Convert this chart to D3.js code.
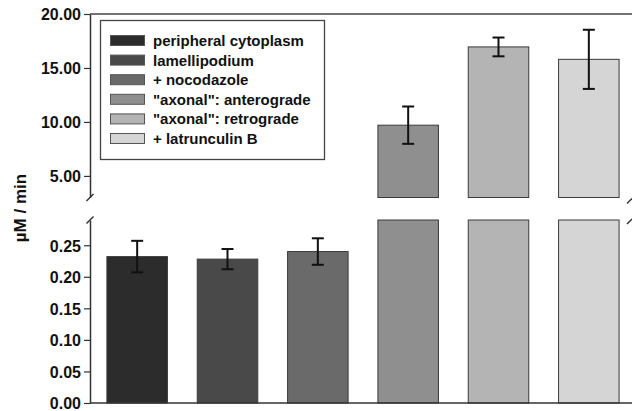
<!DOCTYPE html>
<html>
<head>
<meta charset="utf-8">
<script src="https://cdn.jsdelivr.net/npm/d3@7/dist/d3.min.js"></script>
<style>
html,body{margin:0;padding:0;background:#fff;}
svg{display:block;}
text{font-family:"Liberation Sans",Arial,sans-serif;font-weight:bold;fill:#111;}
</style>
</head>
<body>
<script>
const categories = ["peripheral cytoplasm","lamellipodium","+ nocodazole","\"axonal\": anterograde","\"axonal\": retrograde","+ latrunculin B"];
const means  = [0.232, 0.228, 0.240, 9.70, 16.95, 15.80];
const errors = [0.025, 0.016, 0.021, 1.73, 0.87, 2.74];
const lowTicks = [0, 0.05, 0.10, 0.15, 0.20, 0.25];
const highTicks = [5, 10, 15, 20];
const palette = ["#2c2c2c","#494949","#6a6a6a","#8f8f8f","#b4b4b4","#d5d5d5"];

const W = 632, H = 411;
const svg = d3.select("body").append("svg").attr("width", W).attr("height", H);

const axisX = 90;
const x = d3.scaleBand().domain(categories).range([92, 634]).paddingInner(0.33).paddingOuter(0.165);
const yLow = d3.scaleLinear().domain([0, 0.29]).range([403, 220]);
const yHigh = d3.scaleLinear().domain([3, 20]).range([197.5, 14]);

const lowMax = yLow.domain()[1];

// Bars in lower panel
svg.append("g").selectAll("rect").data(categories).join("rect")
  .attr("x", d => x(d))
  .attr("width", x.bandwidth())
  .attr("y", (d,i) => yLow(Math.min(means[i], lowMax)))
  .attr("height", (d,i) => yLow(0) - yLow(Math.min(means[i], lowMax)))
  .attr("fill", (d,i) => palette[i])
  .attr("stroke", "#3a3a3a").attr("stroke-width", 1);

// Bars in upper panel
const tall = categories.map((d,i)=>i).filter(i => means[i] > yHigh.domain()[0]);
svg.append("g").selectAll("rect").data(tall).join("rect")
  .attr("x", i => x(categories[i]))
  .attr("width", x.bandwidth())
  .attr("y", i => yHigh(means[i]))
  .attr("height", i => yHigh(yHigh.domain()[0]) - yHigh(means[i]))
  .attr("fill", i => palette[i])
  .attr("stroke", "#3a3a3a").attr("stroke-width", 1);

// Error bars
const cap = 6;
categories.forEach((c,i) => {
  const sc = means[i] > lowMax ? yHigh : yLow;
  const cx = x(c) + x.bandwidth()/2;
  const g = svg.append("g").attr("stroke", "#111").attr("stroke-width", 2);
  g.append("line").attr("x1", cx).attr("x2", cx).attr("y1", sc(means[i]-errors[i])).attr("y2", sc(means[i]+errors[i]));
  g.append("line").attr("x1", cx-cap).attr("x2", cx+cap).attr("y1", sc(means[i]+errors[i])).attr("y2", sc(means[i]+errors[i]));
  g.append("line").attr("x1", cx-cap).attr("x2", cx+cap).attr("y1", sc(means[i]-errors[i])).attr("y2", sc(means[i]-errors[i]));
});

// Axes
const fmt = d3.format(".2f");
const gLow = svg.append("g").attr("transform", `translate(${axisX},0)`)
  .call(d3.axisLeft(yLow).tickValues(lowTicks).tickFormat(fmt).tickSize(6).tickSizeOuter(0));
const gHigh = svg.append("g").attr("transform", `translate(${axisX},0)`)
  .call(d3.axisLeft(yHigh).tickValues(highTicks).tickFormat(fmt).tickSize(6).tickSizeOuter(0));
[gLow, gHigh].forEach(g => {
  g.select(".domain").attr("stroke", "#333").attr("stroke-width", 1.5);
  g.selectAll(".tick line").attr("stroke", "#333").attr("stroke-width", 1.2);
  g.selectAll(".tick text").attr("x", -9).attr("dy", "0.36em").style("font-size", "16px").style("font-family", "'Liberation Sans',Arial,sans-serif").style("font-weight", "bold").attr("fill", "#111");
  g.attr("font-size", null).attr("font-family", null);
});

// bottom axis line and top frame line
svg.append("line").attr("x1", axisX).attr("x2", W).attr("y1", yLow(0)).attr("y2", yLow(0)).attr("stroke", "#333").attr("stroke-width", 1.5);
svg.append("line").attr("x1", axisX).attr("x2", W).attr("y1", yHigh(20)).attr("y2", yHigh(20)).attr("stroke", "#444").attr("stroke-width", 1.5);

// Break marks
const brk = svg.append("g").attr("stroke", "#333").attr("stroke-width", 1.5);
brk.append("line").attr("x1", axisX-3.5).attr("y1", yHigh(3)+3.5).attr("x2", axisX+3.5).attr("y2", yHigh(3)-3.5);
brk.append("line").attr("x1", axisX-3.5).attr("y1", yLow(lowMax)+3.5).attr("x2", axisX+3.5).attr("y2", yLow(lowMax)-3.5);
brk.append("line").attr("x1", W-5).attr("y1", yHigh(3)+6).attr("x2", W).attr("y2", yHigh(3)+1);
brk.append("line").attr("x1", W-5).attr("y1", yLow(lowMax)+4).attr("x2", W).attr("y2", yLow(lowMax)-1);

// Y label
svg.append("text").attr("transform", "translate(26,208) rotate(-90)")
  .attr("text-anchor", "middle").style("font-size", "17px").text("µM / min");

// Legend
const lg = svg.append("g");
lg.append("rect").attr("x", 100.5).attr("y", 20.5).attr("width", 224).attr("height", 139)
  .attr("fill", "#fff").attr("stroke", "#444").attr("stroke-width", 1.3);
categories.forEach((c,i) => {
  const yy = 35 + i*19.6;
  lg.append("rect").attr("x", 110.5).attr("y", yy+0.5).attr("width", 34).attr("height", 10)
    .attr("fill", palette[i]).attr("stroke", "#555").attr("stroke-width", 1);
  lg.append("text").attr("x", 153).attr("y", yy+5.5).attr("dy", "0.36em").style("font-size", "15px").text(c);
});
</script>
</body>
</html>
